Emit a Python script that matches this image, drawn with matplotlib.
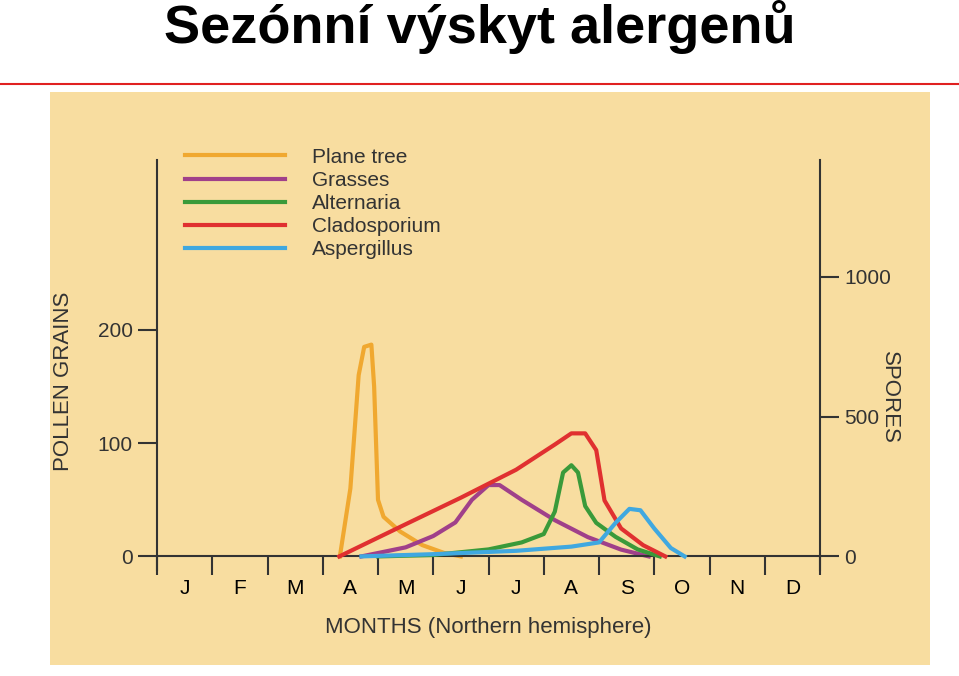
import matplotlib.pyplot as plt
from matplotlib.patches import Rectangle
from matplotlib.lines import Line2D

plt.rcParams['font.family'] = 'Liberation Sans'

months = ['J', 'F', 'M', 'A', 'M', 'J', 'J', 'A', 'S', 'O', 'N', 'D']

# pollen curves (month position, pollen grains)
plane_x = [3.31, 3.5, 3.65, 3.75, 3.88, 3.93, 4.0, 4.1, 4.4, 4.8, 5.2, 5.5]
plane_y = [0, 60, 160, 185, 187, 150, 50, 35, 22, 10, 3, 0]
grass_x = [3.7, 4.5, 5.0, 5.4, 5.7, 6.0, 6.2, 6.6, 7.2, 7.8, 8.4, 8.9]
grass_y = [0, 8, 18, 30, 50, 63, 63, 50, 32, 17, 6, 0]

# spore curves (month position, spores)
clado_x = [3.3, 4.5, 5.5, 6.5, 7.2, 7.5, 7.75, 7.95, 8.1, 8.4, 8.8, 9.2]
clado_y = [0, 115, 210, 310, 400, 440, 440, 380, 200, 100, 40, 0]
alter_x = [4.0, 5.0, 6.0, 6.6, 7.0, 7.2, 7.35, 7.5, 7.62, 7.75, 7.95, 8.3, 8.7, 9.1]
alter_y = [0, 5, 25, 50, 80, 160, 300, 326, 300, 180, 120, 70, 25, 0]
asper_x = [3.7, 5.0, 6.5, 7.5, 8.0, 8.3, 8.55, 8.75, 9.0, 9.3, 9.55]
asper_y = [0, 8, 20, 35, 50, 120, 170, 165, 100, 30, 0]

pollen_ticks = [0, 100, 200]
spore_ticks = [0, 500, 1000]

fig = plt.figure(figsize=(9.59, 6.76), dpi=100)
fig.text(0.5, 1.0, 'Sezónní výskyt alergenů', ha='center', va='top',
         fontsize=39, fontweight='bold', family='Liberation Sans')
fig.add_artist(Line2D([0, 1], [1 - 84/676, 1 - 84/676], color='#E02020', lw=1.5))
fig.add_artist(Rectangle((50/959, 1 - 665/676), 880/959, 573/676,
                         facecolor='#F8DDA0', edgecolor='none', zorder=0))

gray = '#333333'
ax = fig.add_axes([157/959, 1 - 570/676, 663/959, 410/676])
ax.patch.set_visible(False)
ax.set_xlim(0, 12)
ax.set_ylim(-12, 350)
ax2 = ax.twinx()
ax2.set_ylim(-12 * 1.13 / 0.279, 350 * 1.13 / 0.279)

lw = 3
ax.plot(plane_x, plane_y, color='#F0A830', lw=lw, solid_joinstyle='round', label='Plane tree')
ax.plot(grass_x, grass_y, color='#A0408A', lw=lw, solid_joinstyle='round', label='Grasses')
ax2.plot(alter_x, alter_y, color='#3A9A3A', lw=lw, solid_joinstyle='round', label='Alternaria')
ax2.plot(clado_x, clado_y, color='#E03030', lw=lw, solid_joinstyle='round', label='Cladosporium')
ax2.plot(asper_x, asper_y, color='#40A8E0', lw=lw, solid_joinstyle='round', label='Aspergillus')

for a in (ax, ax2):
    for s in a.spines.values():
        s.set_color(gray)
        s.set_linewidth(1.5)
    a.spines['top'].set_visible(False)
    a.tick_params(colors=gray, width=1.5, length=14, labelsize=15)
ax.spines['right'].set_visible(False)
ax2.spines['left'].set_visible(False)
ax2.spines['bottom'].set_visible(False)
ax.spines['bottom'].set_position(('data', 0))

ax.set_xticks(range(13))
ax.set_xticklabels([])
ax.set_xticks([i + 0.5 for i in range(12)], minor=True)
ax.set_xticklabels(months, minor=True)
ax.tick_params(axis='x', which='minor', length=0, pad=16, labelsize=15)
ax.set_yticks(pollen_ticks)
ax2.set_yticks(spore_ticks)

ax.set_xlabel('MONTHS (Northern hemisphere)', fontsize=16, color=gray, labelpad=14)
ax.set_ylabel('POLLEN GRAINS', fontsize=16, color=gray)
ax2.set_ylabel('SPORES', fontsize=16, color=gray, rotation=-90)
ax.yaxis.set_label_coords(-0.125, 0.46)
ax2.yaxis.set_label_coords(1.12, 0.42)

h1, l1 = ax.get_legend_handles_labels()
h2, l2 = ax2.get_legend_handles_labels()
leg = ax2.legend(h1 + h2, l1 + l2, loc='upper left', bbox_to_anchor=(0.042, 1.03),
                 frameon=False, fontsize=15, handlelength=4.8, labelspacing=0.2,
                 handletextpad=1.3, borderpad=0, borderaxespad=0)
for t in leg.get_texts():
    t.set_color(gray)

fig.savefig('out.png', dpi=100)
